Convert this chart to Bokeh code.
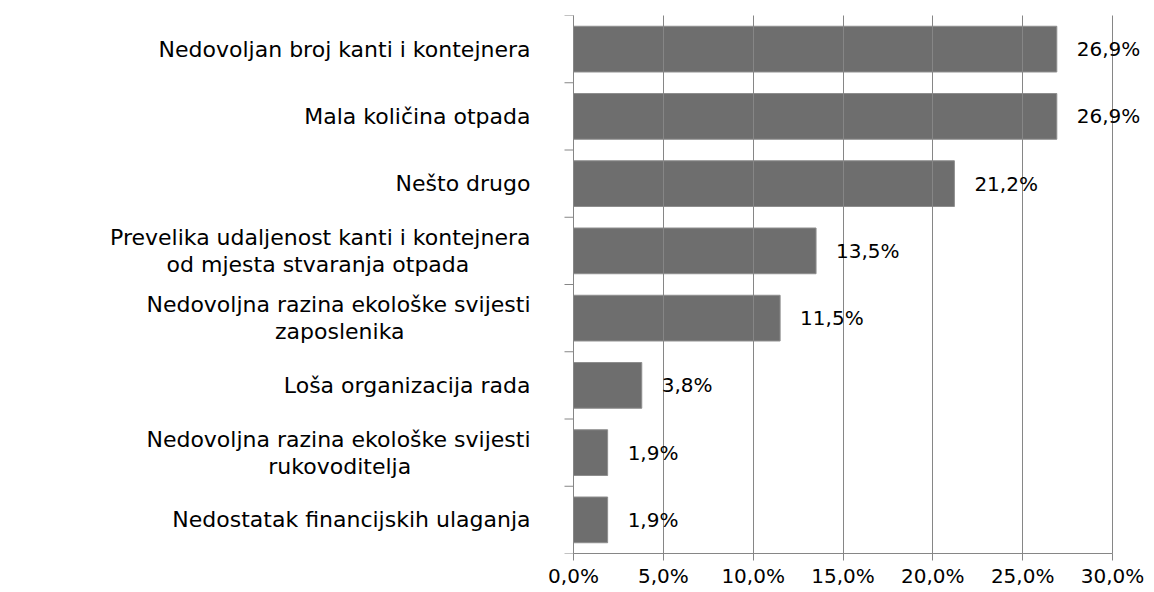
from bokeh.plotting import figure
from bokeh.models import ColumnDataSource, Range1d, FixedTicker, LabelSet, Span
from bokeh.core.properties import value
from bokeh.embed import file_html
from bokeh.resources import INLINE

categories = [
    "Nedovoljan broj kanti i kontejnera",
    "Mala količina otpada",
    "Nešto drugo",
    "Prevelika udaljenost kanti i kontejnera\nod mjesta stvaranja otpada",
    "Nedovoljna razina ekološke svijesti\nzaposlenika",
    "Loša organizacija rada",
    "Nedovoljna razina ekološke svijesti\nrukovoditelja",
    "Nedostatak financijskih ulaganja",
]
values = [26.9, 26.9, 21.2, 13.5, 11.5, 3.8, 1.9, 1.9]
tick_values = [0, 5, 10, 15, 20, 25, 30]
tick_labels = ["0,0%", "5,0%", "10,0%", "15,0%", "20,0%", "25,0%", "30,0%"]

n = len(categories)
ypos = [n - i - 0.5 for i in range(n)]
bounds_y = list(range(n + 1))
val_labels = [f"{v:.1f}".replace(".", ",") + "%" for v in values]

FONT = "DejaVu Sans"
GRID = "#868686"
LEFT_PX, PLOT_PX, RIGHT_PX = 573, 539, 42
PPU = PLOT_PX / 30.0  # pixels per percent
CAT_SIZE = 22
CHAR_W = 10.9   # approx. average glyph width at CAT_SIZE
GAP = 43        # gap between label right edge and axis
HALF_LEAD = 13.5  # half the line spacing of two-line labels

p = figure(width=1154, height=592, output_backend="svg", toolbar_location=None,
           x_range=Range1d(-LEFT_PX / PPU, (PLOT_PX + RIGHT_PX) / PPU),
           y_range=Range1d(0, n),
           min_border_left=0, min_border_right=0, min_border_top=15, min_border_bottom=39)
p.outline_line_color = None
p.background_fill_color = "white"
p.yaxis.visible = False

src = ColumnDataSource(dict(y=ypos, v=values, lab=val_labels))
p.hbar(y="y", right="v", left=0, height=0.68, source=src,
       fill_color="#6e6e6e", line_color="#8e8e8e", line_width=1)

# value labels
p.add_layout(LabelSet(x="v", y="y", text="lab", source=src, x_offset=20,
                      text_align="left", text_baseline="middle",
                      text_font=value(FONT), text_font_size="20px", text_color="black"))

# category labels: first lines right-aligned, second lines centred under the first
first_txt, first_y, first_dy = [], [], []
second_txt, second_y, second_dx = [], [], []
for c, y in zip(categories, ypos):
    lines = c.split("\n")
    first_txt.append(lines[0])
    first_y.append(y)
    first_dy.append(HALF_LEAD if len(lines) > 1 else 0)
    if len(lines) > 1:
        second_txt.append(lines[1])
        second_y.append(y)
        second_dx.append(-(GAP + CHAR_W * len(lines[0]) / 2))

s1 = ColumnDataSource(dict(x=[0] * len(first_txt), y=first_y, t=first_txt, dy=first_dy))
p.add_layout(LabelSet(x="x", y="y", text="t", source=s1, x_offset=-GAP, y_offset="dy",
                      text_align="right", text_baseline="middle",
                      text_font=value(FONT), text_font_size=f"{CAT_SIZE}px", text_color="black"))
s2 = ColumnDataSource(dict(x=[0] * len(second_txt), y=second_y, t=second_txt, dx=second_dx))
p.add_layout(LabelSet(x="x", y="y", text="t", source=s2, x_offset="dx", y_offset=-HALF_LEAD,
                      text_align="center", text_baseline="middle",
                      text_font=value(FONT), text_font_size=f"{CAT_SIZE}px", text_color="black"))

# vertical category axis line and category-boundary ticks
p.add_layout(Span(location=0, dimension="height", line_color=GRID, line_width=1))
p.segment(x0=[0] * len(bounds_y), x1=[-9 / PPU] * len(bounds_y), y0=bounds_y, y1=bounds_y,
          line_color=GRID, line_width=1)

# value axis
p.xaxis.ticker = FixedTicker(ticks=tick_values)
p.xaxis.bounds = (0, 30)
p.xaxis.major_label_overrides = {t: l for t, l in zip(tick_values, tick_labels)}
p.xaxis.major_label_text_font = FONT
p.xaxis.major_label_text_font_size = "20px"
p.xaxis.major_label_text_color = "black"
p.xaxis.major_label_standoff = 3
p.xaxis.axis_line_color = GRID
p.xaxis.major_tick_line_color = GRID
p.xaxis.major_tick_out = 7
p.xaxis.major_tick_in = 0
p.xaxis.minor_tick_line_color = None

p.ygrid.grid_line_color = None
p.xgrid.grid_line_color = GRID
p.xgrid.level = "guide"
p.xgrid.ticker = FixedTicker(ticks=tick_values)

open("out.html", "w").write(file_html(p, INLINE))
